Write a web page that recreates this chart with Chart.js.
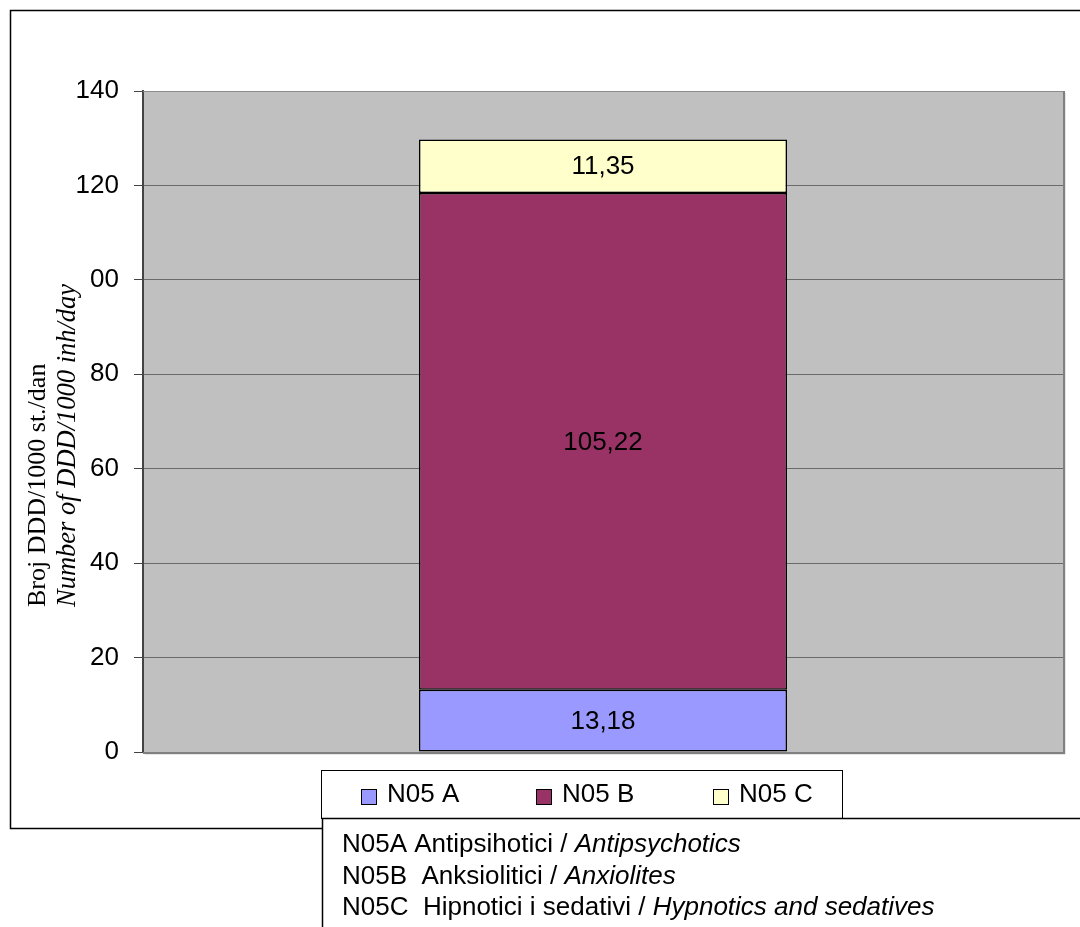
<!DOCTYPE html>
<html>
<head>
<meta charset="utf-8">
<script src="https://cdn.jsdelivr.net/npm/chart.js@4.4.0/dist/chart.umd.min.js"></script>
<style>
  html, body { margin: 0; padding: 0; background: #fff; }
  #wrap { width: 1080px; height: 927px; position: relative; }
</style>
</head>
<body>
<div id="wrap"><canvas id="c" width="1080" height="927"></canvas></div>
<script>
// Drug consumption, DDD per 1000 inhabitants per day
const categories = [''];
const seriesNames = ['N05 A', 'N05 B', 'N05 C'];
const valuesN05A = [13.18];
const valuesN05B = [105.22];
const valuesN05C = [11.35];
const seriesColors = ['#9999ff', '#993366', '#ffffcc'];
const yTickLabels = ['0', '20', '40', '60', '80', '00', '120', '140'];
const yTitleLines = ['Broj DDD/1000 st./dan', 'Number of DDD/1000 inh/day'];
const notes = [
  ['N05A Antipsihotici / ', 'Antipsychotics'],
  ['N05B  Anksiolitici / ', 'Anxiolites'],
  ['N05C  Hipnotici i sedativi / ', 'Hypnotics and sedatives']
];

const SANS = '"Liberation Sans", Arial, sans-serif';
const SERIF = '"Liberation Serif", "Times New Roman", serif';

const decor = {
  id: 'decor',
  beforeDraw(chart) {
    const ctx = chart.ctx, a = chart.chartArea;
    ctx.save();
    ctx.fillStyle = '#ffffff';
    ctx.fillRect(0, 0, chart.width, chart.height);
    // outer frame
    ctx.strokeStyle = '#000';
    ctx.lineWidth = 1.5;
    ctx.beginPath();
    ctx.moveTo(1080, 10.5);
    ctx.lineTo(10.5, 10.5);
    ctx.lineTo(10.5, 828.5);
    ctx.lineTo(322, 828.5);
    ctx.stroke();
    // plot background
    ctx.fillStyle = '#c0c0c0';
    ctx.fillRect(a.left, a.top, a.right - a.left, a.bottom - a.top);
    ctx.restore();
  },
  beforeDatasetsDraw(chart) {
    const ctx = chart.ctx, a = chart.chartArea;
    ctx.save();
    // plot border: light top, darker right and bottom
    ctx.strokeStyle = '#8c8c8c';
    ctx.lineWidth = 1;
    ctx.beginPath();
    ctx.moveTo(a.left, a.top + 0.5);
    ctx.lineTo(a.right, a.top + 0.5);
    ctx.stroke();
    ctx.strokeStyle = '#808080';
    ctx.lineWidth = 2;
    ctx.beginPath();
    ctx.moveTo(a.right + 1, a.top);
    ctx.lineTo(a.right + 1, a.bottom + 1);
    ctx.lineTo(a.left, a.bottom + 1);
    ctx.stroke();
    ctx.strokeStyle = '#e6e6e6';
    ctx.lineWidth = 1;
    ctx.beginPath();
    ctx.moveTo(a.right + 2.5, a.top + 2);
    ctx.lineTo(a.right + 2.5, a.bottom + 2.5);
    ctx.lineTo(a.left + 2, a.bottom + 2.5);
    ctx.stroke();
    ctx.restore();
  },
  afterDatasetsDraw(chart) {
    const ctx = chart.ctx;
    ctx.save();
    ctx.fillStyle = '#000';
    ctx.font = '26px ' + SANS;
    ctx.textAlign = 'center';
    ctx.textBaseline = 'middle';
    chart.data.datasets.forEach((ds, i) => {
      chart.getDatasetMeta(i).data.forEach((bar, j) => {
        const v = ds.data[j];
        const yMid = (bar.y + bar.base) / 2;
        ctx.fillText(v.toFixed(2).replace('.', ','), bar.x, yMid + 1);
      });
    });
    ctx.restore();
  },
  afterDraw(chart) {
    const ctx = chart.ctx;
    ctx.save();
    // y axis title, two lines, rotated
    ctx.fillStyle = '#000';
    ctx.textBaseline = 'middle';
    ctx.textAlign = 'left';
    ctx.save();
    ctx.translate(38, 607);
    ctx.rotate(-Math.PI / 2);
    ctx.font = '26px ' + SERIF;
    ctx.fillText(yTitleLines[0], 0, 0);
    ctx.restore();
    ctx.save();
    ctx.translate(68, 607);
    ctx.rotate(-Math.PI / 2);
    ctx.font = 'italic 26.5px ' + SERIF;
    ctx.fillText(yTitleLines[1], 0, 0);
    ctx.restore();

    // legend box
    ctx.fillStyle = '#fff';
    ctx.fillRect(322, 771, 521, 47);
    ctx.strokeStyle = '#000';
    ctx.lineWidth = 1;
    ctx.strokeRect(321.5, 770.5, 521, 48);
    const sqX = [361, 536, 713];
    ctx.font = '26px ' + SANS;
    ctx.textAlign = 'left';
    ctx.textBaseline = 'middle';
    chart.data.datasets.forEach((ds, i) => {
      ctx.fillStyle = ds.backgroundColor;
      ctx.fillRect(sqX[i], 789, 15, 15);
      ctx.strokeStyle = '#000';
      ctx.lineWidth = 1;
      ctx.strokeRect(sqX[i] + 0.5, 789.5, 15, 15);
      ctx.fillStyle = '#000';
      ctx.fillText(ds.label, sqX[i] + 26, 795);
    });

    // notes box
    ctx.fillStyle = '#fff';
    ctx.fillRect(322, 819, 758, 108);
    ctx.strokeStyle = '#000';
    ctx.lineWidth = 1.5;
    ctx.beginPath();
    ctx.moveTo(1080, 818.5);
    ctx.lineTo(322.5, 818.5);
    ctx.lineTo(322.5, 927);
    ctx.stroke();
    ctx.fillStyle = '#000';
    ctx.textBaseline = 'alphabetic';
    notes.forEach((n, i) => {
      const y = 852 + i * 31.5;
      ctx.font = '26px ' + SANS;
      ctx.fillText(n[0], 342, y);
      const w = ctx.measureText(n[0]).width;
      ctx.font = 'italic 26px ' + SANS;
      ctx.fillText(n[1], 342 + w, y);
    });
    ctx.restore();
  }
};

new Chart(document.getElementById('c'), {
  type: 'bar',
  data: {
    labels: categories,
    datasets: [
      { label: seriesNames[0], data: valuesN05A, backgroundColor: seriesColors[0] },
      { label: seriesNames[1], data: valuesN05B, backgroundColor: seriesColors[1] },
      { label: seriesNames[2], data: valuesN05C, backgroundColor: seriesColors[2] }
    ].map(d => Object.assign(d, {
      borderColor: '#000',
      borderWidth: 1.5,
      borderSkipped: false,
      categoryPercentage: 0.8,
      barPercentage: 0.5
    }))
  },
  options: {
    responsive: false,
    animation: false,
    devicePixelRatio: 1,
    layout: { padding: { left: 0, right: 17, top: 91, bottom: 175 } },
    plugins: { legend: { display: false }, tooltip: { enabled: false }, title: { display: false } },
    scales: {
      x: { stacked: true, display: false },
      y: {
        stacked: true,
        min: 0,
        max: 140,
        ticks: {
          stepSize: 20,
          color: '#000',
          font: { family: SANS, size: 26 },
          padding: 15,
          callback: (v) => yTickLabels[Math.round(v / 20)]
        },
        grid: { color: '#6a6a6a', lineWidth: 1, tickLength: 9, tickColor: '#444' },
        border: { color: '#444', width: 2 },
        afterFit(scale) { scale.width = 143; }
      }
    }
  },
  plugins: [decor]
});
</script>
</body>
</html>
